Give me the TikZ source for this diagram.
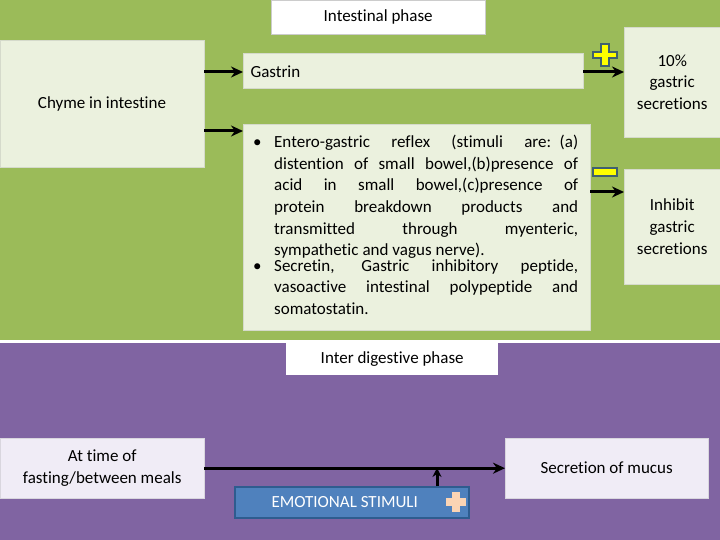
\documentclass[tikz,border=0pt]{standalone}
\usepackage{fontspec}
\setmainfont[Ligatures=NoCommon]{Carlito}
\usetikzlibrary{arrows.meta}
\definecolor{gbg}{HTML}{9BBB59}
\definecolor{pbg}{HTML}{8064A2}
\definecolor{gbox}{HTML}{EBF1DE}
\definecolor{pbox}{HTML}{F0ECF6}
\definecolor{ebox}{HTML}{4F81BD}
\definecolor{eedge}{HTML}{2E5C8F}
\definecolor{peach}{HTML}{FBD4B4}
\definecolor{yel}{HTML}{FFFF00}
\definecolor{sgrey}{HTML}{3F6070}
\newcommand{\bitem}[1]{\noindent\makebox[24pt][l]{\hspace{3pt}•}\parbox[t]{304pt}{\hyphenpenalty=10000\exhyphenpenalty=10000\rightskip=0pt\spaceskip=4pt plus 40pt minus 1pt #1}\par}
\begin{document}
\begin{tikzpicture}[x=1pt,y=-1pt,
  txt/.style={font=\fontsize{17}{21.6}\selectfont},
  arr/.style={-{Stealth[length=12pt,width=11pt]},line width=3pt,black},
  gb/.style={fill=gbox,draw=gbox!80!gray}]
\useasboundingbox (0,0) rectangle (720,540);
\fill[gbg] (0,0) rectangle (720,340);
\fill[pbg] (0,343) rectangle (720,540);
\node[fill=white,draw=gray!40,minimum width=214pt,minimum height=34pt,txt,anchor=north west] (ip) at (271,0) {Intestinal phase};
\node[gb,minimum width=204pt,minimum height=127pt,anchor=north west] (chyme) at (0,40) {};
\node[txt] at (102,104) {Chyme in intestine};
\node[gb,minimum width=340pt,minimum height=35pt,anchor=north west] (gas) at (243,53) {};
\node[txt,anchor=west] at (247,72) {Gastrin};
\node[gb,minimum width=347pt,minimum height=206pt,anchor=north west] (bul) at (243,124) {};
\node[txt,anchor=north west,inner sep=0pt,text width=334pt] at (250,135) {%
\bitem{Entero-gastric reflex (stimuli are: (a)\linebreak distention of small bowel,(b)presence of\linebreak acid in small bowel,(c)presence of\linebreak protein breakdown products and\linebreak transmitted through myenteric,\linebreak sympathetic and vagus nerve).}
\bitem{Secretin, Gastric inhibitory peptide,\linebreak vasoactive intestinal polypeptide and\linebreak somatostatin.}};
\node[gb,minimum width=96pt,minimum height=110pt,anchor=north west,txt,align=center] (ten) at (624,27) {10\%\\gastric\\secretions};
\node[gb,minimum width=96pt,minimum height=115pt,anchor=north west,txt,align=center] (inh) at (624,169) {Inhibit\\gastric\\secretions};
\coordinate (c1) at (204,72); \coordinate (c2) at (204,131);
\coordinate (g1) at (243,72); \coordinate (g2) at (243,131);
\draw[arr] (c1) -- (g1);
\draw[arr] (c2) -- (g2);
\draw[arr] (gas.east |- 0,72) -- (ten.west |- 0,72);
\draw[arr] (bul.east |- 0,192) -- (inh.west |- 0,192);
\draw[sgrey,line width=1.5pt,fill=yel] (601,44)--(609,44)--(609,52)--(617,52)--(617,58)--(609,58)--(609,66)--(601,66)--(601,58)--(593,58)--(593,52)--(601,52)--cycle;
\draw[sgrey,line width=1.5pt,fill=yel] (593,168) rectangle (617,176);
\node[fill=white,minimum width=212pt,minimum height=32pt,anchor=north west,txt] (idp) at (286,343) {Inter digestive phase};
\node[fill=pbox,draw=pbox!80!gray,minimum width=204pt,minimum height=60pt,anchor=north west,txt,align=center] (fast) at (0,438) {At time of\\fasting/between meals};
\node[fill=pbox,draw=pbox!80!gray,minimum width=203pt,minimum height=60pt,anchor=north west,txt] (muc) at (505,438) {Secretion of mucus};
\draw[arr] (fast.east) -- (muc.west);
\node[fill=ebox,draw=eedge,line width=1.5pt,minimum width=234pt,minimum height=31pt,anchor=north west] (emo) at (234,486) {};
\node[txt,text=white,anchor=west] at (268,502) {EMOTIONAL STIMULI};
\fill[peach] (452,492) rectangle (460,512);
\fill[peach] (446,498) rectangle (466,506);
\draw[-{Stealth[length=9pt,width=9pt]},line width=3pt] (437,486) -- (437,468);
\end{tikzpicture}
\end{document}
